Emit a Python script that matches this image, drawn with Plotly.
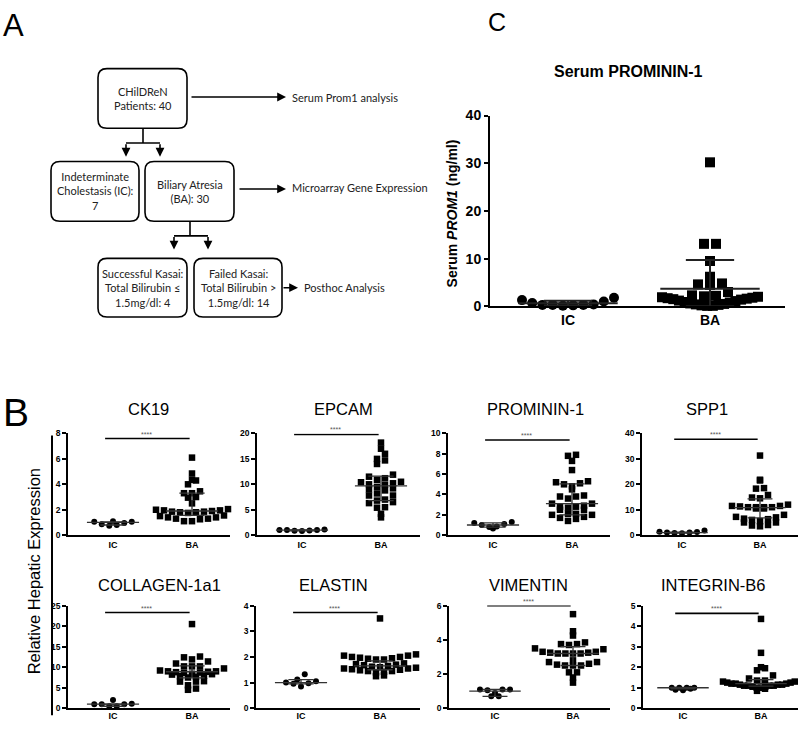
import numpy as np
import plotly.graph_objects as go

W, H = 800, 729
FONT = "Liberation Sans, Arial, sans-serif"

# ---------------- data ----------------
groups = ["IC", "BA"]

panel_b_titles = ["CK19", "EPCAM", "PROMININ-1", "SPP1",
                  "COLLAGEN-1a1", "ELASTIN", "VIMENTIN", "INTEGRIN-B6"]
panel_b_ymax = [8, 20, 10, 40, 25, 4, 6, 5]
panel_b_dtick = [2, 5, 2, 10, 5, 1, 2, 1]

ck19_ic = [1.1, 1.05, 0.85, 0.75, 0.8, 0.95, 1.05]
ck19_ba = [6.1, 4.85, 4.35, 4.3, 4.0, 3.45, 3.3, 3.3, 3.0, 2.95, 2.5, 2.0, 1.95, 1.95, 1.9,
           1.85, 1.8, 1.75, 1.8, 1.85, 2.05, 1.5, 1.4, 1.3, 1.25, 1.1, 1.1, 1.3, 1.4, 1.55]
epcam_ic = [1.1, 1.0, 1.0, 0.8, 0.85, 0.9, 1.0]
epcam_ba = [18.2, 17.0, 16.0, 15.0, 14.7, 14.0, 11.9, 11.5, 11.2, 10.9, 10.5, 10.4, 10.2, 10.0,
            9.9, 9.5, 9.0, 9.2, 8.8, 8.2, 7.8, 7.8, 7.0, 6.8, 6.5, 6.3, 5.5, 5.4, 4.2, 3.5]
prom_ic = [1.3, 1.2, 1.0, 0.85, 0.65, 0.8, 1.1]
prom_ba = [7.9, 7.8, 7.3, 6.4, 5.3, 5.2, 5.1, 5.0, 4.8, 4.5, 3.9, 3.8, 3.8, 3.6, 3.1, 2.9, 2.8,
           2.7, 2.8, 3.1, 2.5, 2.5, 2.1, 2.0, 2.0, 2.1, 1.7, 1.8, 1.6, 1.4]
spp1_ic = [1.8, 1.2, 1.0, 0.8, 0.9, 1.0, 1.3]
spp1_ba = [31.3, 21.8, 21.5, 18.5, 18.3, 15.8, 14.8, 14.5, 12.0, 11.5, 11.3, 11.0, 11.0, 10.5,
           10.5, 11.0, 11.5, 11.0, 8.0, 7.2, 6.5, 7.0, 6.3, 5.5, 5.0, 5.0, 4.0, 3.5, 3.8, 6.0]
coll_ic = [2.0, 1.0, 1.0, 0.5, 0.5, 1.0, 1.1]
coll_ba = [20.5, 12.6, 12.4, 11.9, 11.4, 10.9, 10.2, 10.2, 10.2, 9.7, 9.2, 9.0, 8.8, 8.7, 8.6,
           8.4, 8.3, 8.2, 8.0, 7.7, 7.8, 7.5, 6.6, 6.5, 6.5, 5.6, 4.8, 4.5, 9.0, 8.9]
elas_ic = [1.33, 1.12, 1.05, 1.0, 0.98, 0.96, 0.85]
elas_ba = [3.5, 2.1, 2.05, 2.05, 2.0, 2.0, 1.97, 1.95, 1.93, 1.9, 1.9, 1.75, 1.72, 1.7, 1.68,
           1.65, 1.62, 1.6, 1.58, 1.55, 1.55, 1.52, 1.5, 1.48, 1.45, 1.45, 1.42, 1.4, 1.28, 1.25]
vim_ic = [1.1, 1.1, 1.05, 1.1, 0.9, 0.7, 0.7]
vim_ba = [5.5, 4.5, 4.25, 3.85, 3.75, 3.7, 3.75, 3.5, 3.5, 3.45, 3.3, 3.25, 3.2, 3.2, 3.2, 3.2,
          3.25, 3.3, 2.8, 2.7, 2.6, 2.5, 2.5, 2.5, 2.55, 2.7, 2.1, 2.1, 1.8, 1.5]
int_ic = [1.0, 1.0, 1.0, 0.9, 0.88, 0.95, 1.0]
int_ba = [4.35, 2.7, 2.0, 1.95, 1.85, 1.6, 1.45, 1.35, 1.35, 1.3, 1.3, 1.25, 1.2, 1.2, 1.15,
          1.15, 1.1, 1.1, 1.1, 1.05, 1.05, 1.0, 1.0, 1.15, 1.2, 1.25, 1.3, 0.95, 0.85, 1.1]

panel_b_ic = [ck19_ic, epcam_ic, prom_ic, spp1_ic, coll_ic, elas_ic, vim_ic, int_ic]
panel_b_ba = [ck19_ba, epcam_ba, prom_ba, spp1_ba, coll_ba, elas_ba, vim_ba, int_ba]

# median with interquartile range: [IC, BA]
b_median = [[1.0, 1.9], [1.0, 9.7], [1.0, 3.1], [1.0, 10.8], [1.0, 8.9], [1.0, 1.65], [1.0, 3.2], [1.0, 1.2]]
b_q1 = [[0.8, 1.55], [0.85, 6.8], [0.8, 2.0], [0.8, 6.8], [0.5, 7.4], [0.95, 1.5], [0.7, 2.5], [0.95, 1.08]]
b_q3 = [[1.05, 3.3], [1.05, 11.6], [1.2, 5.05], [1.2, 14.3], [1.0, 10.3], [1.12, 1.85], [1.1, 3.6], [1.02, 1.4]]
b_sig_y = [7.6, 19.8, 9.35, 37.7, 23.3, 3.73, 6.0, 4.62]
sig_label = "****"

c_title = "Serum PROMININ-1"
c_ytitle = "Serum <i>PROM1</i> (ng/ml)"
c_ic = [1.3, 0.7, 0.3, 0.3, 0.1, 0.2, 0.3, 0.4, 1.0, 1.8]
c_ba = [30.2, 13.1, 13.1, 9.5, 6.2, 4.8, 4.5, 4.6, 3.0, 2.3, 2.1, 2.0, 1.8, 1.7, 1.5, 1.4, 1.2,
        1.1, 0.9, 0.8, 0.6, 0.5, 0.4, 0.3, 0.2, 0.1, 0.1, 1.6, 1.9, 2.2]
c_mean = [0.65, 3.7]
c_sd_hi = [1.15, 9.7]
c_sd_lo = [0.15, 0.0]

# ---------------- helpers ----------------
def px(x):
    return x / W

def py(y):
    return 1 - y / H

def scatter_rows(vals, h, dx, maxhalf, sx, sy):
    """GraphPad-like column scatter: values are binned into rows of height h (px);
    each row is spread symmetrically, lowest values nearest the centre."""
    vals = np.asarray(vals, float)
    bins = np.floor(vals * sy / h).astype(int)
    offs = np.zeros(len(vals))
    for bval in np.unique(bins):
        idx = np.where(bins == bval)[0]
        idx = idx[np.argsort(vals[idx], kind="stable")]
        n = len(idx)
        step = dx if n <= 1 else min(dx, 2 * maxhalf / (n - 1))
        slots = [(k - (n - 1) / 2) * step for k in range(n)]
        slots.sort(key=lambda s: (round(abs(s), 6), s))
        for i, s in zip(idx, slots):
            offs[i] = s
    return offs / sx

fig = go.Figure()
layout = dict(width=W, height=H, margin=dict(l=0, r=0, t=0, b=0), autosize=False,
              paper_bgcolor="white", plot_bgcolor="white", showlegend=False,
              font=dict(family=FONT, color="black"))
annotations = []
shapes = []

def add_axes(k, box, ymax, dtick, a_off, b_off, tfs, lw, xtfs, standoff=None):
    x0, x1, y0, y1 = box
    w = x1 - x0
    unit = b_off - a_off
    lo, hi = -a_off / unit, (w - a_off) / unit
    s = "" if k == 1 else str(k)
    xa = dict(domain=[px(x0), px(x1)], anchor="y" + s, range=[lo, hi],
              showline=True, linecolor="black", linewidth=lw, showgrid=False,
              zeroline=False, tickvals=[0, 1], ticktext=groups, ticks="",
              tickfont=dict(size=xtfs, family=FONT, weight="bold"), fixedrange=True)
    if standoff is not None:
        xa["ticklabelstandoff"] = standoff
    layout["xaxis" + s] = xa
    layout["yaxis" + s] = dict(domain=[py(y1), py(y0)], anchor="x" + s, range=[0, ymax],
                               showline=True, linecolor="black", linewidth=lw, showgrid=False,
                               zeroline=False, dtick=dtick, tick0=0, ticks="outside",
                               ticklen=4, tickwidth=lw, tickcolor="black",
                               tickfont=dict(size=tfs, family=FONT, weight="bold"), fixedrange=True)
    return "x" + s, "y" + s, unit, (y1 - y0) / ymax

def summary_lines(xa, ya, centers, mid, lo_, hi_, mw, cw, color, width):
    xs, ys = [], []
    for c, m, l, h in zip(centers, mid, lo_, hi_):
        xs += [c - mw, c + mw, None, c, c, None, c - cw, c + cw, None, c - cw, c + cw, None]
        ys += [m, m, None, l, h, None, l, l, None, h, h, None]
    fig.add_trace(go.Scatter(x=xs, y=ys, mode="lines", xaxis=xa, yaxis=ya,
                             line=dict(color=color, width=width), hoverinfo="skip", cliponaxis=False))

def ann(x, y, text, size, xanchor="center", yanchor="middle", angle=0, color="black", family=FONT):
    annotations.append(dict(x=px(x), y=py(y), xref="paper", yref="paper", text=text, showarrow=False,
                            xanchor=xanchor, yanchor=yanchor, textangle=angle, align="center",
                            font=dict(size=size, family=family, color=color)))

# ---------------- panel B ----------------
b_boxes = [(68, 230, 435, 539), (257, 420, 435, 539), (448, 610, 435, 539), (642, 798, 435, 539),
           (68, 230, 611, 716), (256, 420, 611, 716), (449, 610, 611, 716), (643, 798, 611, 716)]
b_offsets = [(45, 124), (45, 124), (45, 124), (40, 118), (45, 124), (45, 124), (46, 124), (40, 118)]
b_title_x = [148, 343, 535, 707, 159, 333, 528, 713]

for j in range(8):
    k = j + 1
    a, b = b_offsets[j]
    xa, ya, sx, sy = add_axes(k, b_boxes[j], panel_b_ymax[j], panel_b_dtick[j], a, b, 8.5, 1.5, 9,
                              standoff=(-2 if j >= 4 else None))
    ic = panel_b_ic[j]
    ba = panel_b_ba[j]
    ox_ic = scatter_rows(ic, 7, 7.5, 30, sx, sy)
    ox_ba = scatter_rows(ba, 7, 8.0, 38, sx, sy)
    fig.add_trace(go.Scatter(x=0 + ox_ic, y=ic, mode="markers", xaxis=xa, yaxis=ya, cliponaxis=False,
                             marker=dict(symbol="circle", size=6, color="black", line=dict(width=0))))
    fig.add_trace(go.Scatter(x=1 + ox_ba, y=ba, mode="markers", xaxis=xa, yaxis=ya, cliponaxis=False,
                             marker=dict(symbol="square", size=6.5, color="black", line=dict(width=0))))
    summary_lines(xa, ya, [0, 1], b_median[j], b_q1[j], b_q3[j], 0.33, 0.16, "#333", 1.3)
    fig.add_trace(go.Scatter(x=[-0.1, 0.97], y=[b_sig_y[j]] * 2, mode="lines", xaxis=xa, yaxis=ya,
                             cliponaxis=False, line=dict(color="black", width=1.6), hoverinfo="skip"))
    annotations.append(dict(x=0.43, y=b_sig_y[j], xref=xa, yref=ya, text=sig_label, showarrow=False,
                            xanchor="center", yanchor="bottom", yshift=-1,
                            font=dict(size=7, color="#555", family=FONT)))
    ann(b_title_x[j], 410 if j < 4 else 590, panel_b_titles[j], 16.5)

shapes.append(dict(type="line", xref="paper", yref="paper", x0=px(52), x1=px(52), y0=py(437), y1=py(723),
                   line=dict(color="black", width=2)))
ann(34, 576, "Relative Hepatic Expression", 16.5, angle=-90)

# ---------------- panel C ----------------
xa, ya, sx, sy = add_axes(9, (490, 785, 110, 305), 40, 10, 78, 220, 14, 2, 14)
ox_ic = scatter_rows(c_ic, 10, 11, 46, sx, sy)
ox_ba = scatter_rows(c_ba, 10, 12, 48, sx, sy)
fig.add_trace(go.Scatter(x=0 + ox_ic, y=c_ic, mode="markers", xaxis=xa, yaxis=ya, cliponaxis=False,
                         marker=dict(symbol="circle", size=10, color="black", line=dict(width=0))))
fig.add_trace(go.Scatter(x=1 + ox_ba, y=c_ba, mode="markers", xaxis=xa, yaxis=ya, cliponaxis=False,
                         marker=dict(symbol="square", size=10, color="black", line=dict(width=0))))
summary_lines(xa, ya, [0, 1], c_mean, c_sd_lo, c_sd_hi, 0.35, 0.17, "#222", 2)
ann(628, 65, "<b>" + c_title + "</b>", 16)
ann(452, 210, "<b>" + c_ytitle + "</b>", 14, angle=-90)

# ---------------- panel letters ----------------
ann(1, 18, "A", 31, xanchor="left")
ann(1, 414, "B", 39, xanchor="left")
ann(486, 14, "C", 25, xanchor="left")

# ---------------- panel A flowchart ----------------
FC = "Lato, Noto Sans, sans-serif"

def rbox(x0, y0, x1, y1, r=9):
    pts = (f"M {px(x0+r)},{py(y0)} L {px(x1-r)},{py(y0)} Q {px(x1)},{py(y0)} {px(x1)},{py(y0+r)} "
           f"L {px(x1)},{py(y1-r)} Q {px(x1)},{py(y1)} {px(x1-r)},{py(y1)} "
           f"L {px(x0+r)},{py(y1)} Q {px(x0)},{py(y1)} {px(x0)},{py(y1-r)} "
           f"L {px(x0)},{py(y0+r)} Q {px(x0)},{py(y0)} {px(x0+r)},{py(y0)} Z")
    shapes.append(dict(type="path", xref="paper", yref="paper", path=pts,
                       line=dict(color="black", width=1.6), fillcolor="white"))

def seg(x0, y0, x1, y1):
    shapes.append(dict(type="line", xref="paper", yref="paper", x0=px(x0), y0=py(y0), x1=px(x1), y1=py(y1),
                       line=dict(color="black", width=1.6)))

def arrow(x0, y0, x1, y1):
    annotations.append(dict(x=px(x1), y=py(y1), xref="paper", yref="paper", ax=x0 - x1, ay=y0 - y1,
                            axref="pixel", ayref="pixel", text="", showarrow=True, arrowhead=2,
                            arrowsize=1.1, arrowwidth=1.6, arrowcolor="black", standoff=0))

flow_boxes = [(98, 62, 187, 123), (51, 157, 139, 218), (145, 157, 234, 218),
              (98, 256, 187, 316), (194, 256, 282, 316)]
flow_texts = ["CHilDReN<br>Patients: 40",
              "Indeterminate<br>Cholestasis (IC):<br>7",
              "Biliary Atresia<br>(BA): 30",
              "Successful Kasai:<br>Total Bilirubin ≤<br>1.5mg/dl: 4",
              "Failed Kasai:<br>Total Bilirubin ><br>1.5mg/dl: 14"]
flow_side = [("Serum Prom1 analysis", 290, 91), ("Microarray Gene Expression", 290, 184),
             ("Posthoc Analysis", 302, 286)]

for (x0, y0, x1, y1), t in zip(flow_boxes, flow_texts):
    rbox(x0, y0, x1, y1)
    ann((x0 + x1) / 2, (y0 + y1) / 2, t, 11, color="#222", family=FC)

seg(143, 123, 143, 138); seg(126, 138, 160, 138)
arrow(126, 138, 126, 152); arrow(160, 138, 160, 152)
seg(190, 218, 190, 233); seg(174, 233, 208, 233)
arrow(174, 233, 174, 247); arrow(208, 233, 208, 247)
arrow(190, 91, 286, 91)
arrow(238, 185, 286, 185)
arrow(282, 286, 298, 286)
for t, x, y in flow_side:
    ann(x, y, t, 11, xanchor="left", color="#222", family=FC)

layout["annotations"] = annotations
layout["shapes"] = shapes
fig.update_layout(**layout)
fig.write_html("out.html", config={"displayModeBar": False},
               post_script="document.body.style.margin='0';document.body.style.padding='0';"
                           "document.documentElement.style.overflow='hidden';")
